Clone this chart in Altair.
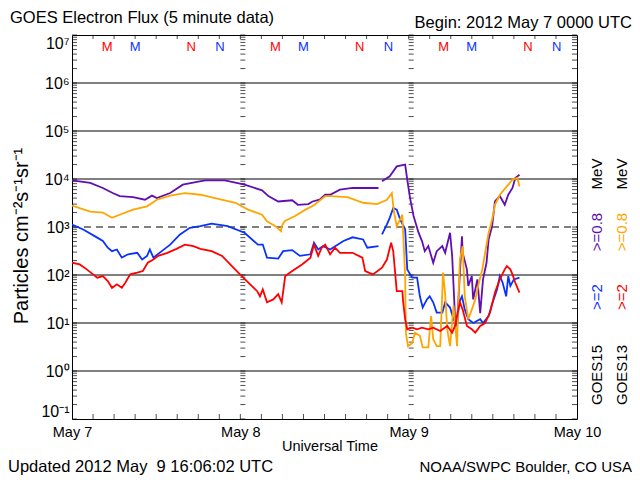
import json
import altair as alt
import pandas as pd

# ---------------- data (hours since 2012-05-07 00:00 UTC, flux) ----------------
# None marks a data gap
PURPLE_H = [0, 2.6, 4.4, 5.8, 6.8, 8.7, 10.4, 11.4, 12.1, 14.0, 15.8, 18.0, 19.0, 21.8, 24.6, 27.1, 28.0, 29.4,
            31.4, 32.2, 33.7, 34.3, 35.3, 36.1, 36.8, 38.2, 40.0, 41.5, 43.7, None,
            44.2, 45.3, 46.3, 47.5, 47.8, 48.2, 48.7, 49.4, 49.9, 50.3, 50.8, 51.5, 52.0, 52.8, 53.2, 53.9, 54.2,
            54.4, 54.6, 54.9, 55.2, 55.6, 55.7, 56.3, 56.5, 57.0, 57.2, 57.8, 58.2, 58.6, 59.1, 59.4, 59.9, 60.3,
            61.0, 61.7, 62.2, 62.8, 63.2, 63.8]
PURPLE_V = [9400, 8300, 6500, 5100, 4400, 4200, 3700, 4500, 4000, 5100, 7600, 8800, 9400, 9400, 7600, 5800, 4400, 3400,
            3600, 2900, 3000, 3400, 3700, 4700, 4700, 6000, 6500, 6500, 6500, None,
            8950, 11400, 18300, 19900, 9700, 4000, 1700, 770, 510, 314, 400, 180, 314, 400, 290, 760, 250,
            59, 14, 10, 59, 640, 290, 131, 59, 95, 31, 81, 16, 81, 180, 550, 1040, 3400,
            4400, 2900, 4700, 6500, 10500, 12300]

ORANGE_H = [0, 2.6, 4.4, 5.7, 6.8, 8.7, 10.7, 12.1, 14.0, 16.1, 18.3, 20.4, 23.3, 25.1, 27.1, 27.8, 29.0, 29.8, 29.9,
            30.3, 31.8, 33.3, 34.6, 36.1, 36.8, 39.3, 41.5, 43.5, 44.9, 45.6, 45.9, 46.3, 47.1, 47.2, 47.5, 47.6,
            47.9, 48.5, 48.9, 49.6, 50.0, 50.8, 51.2, 51.5, 52.0, 52.5, 52.9, 53.2, 53.5, 53.9, 54.4, 54.9, 55.0,
            55.3, 55.7, 56.0, 56.5, 57.0, 57.5, 57.9, 58.5, 58.9, 59.4, 59.9, 60.3, 61.0, 62.0, 62.8, 63.5, 63.8]
ORANGE_V = [2800, 2100, 2000, 1550, 1800, 2300, 2700, 3700, 4500, 5100, 4700, 4000, 3200, 2300, 1800, 1320, 1040, 820,
            1040, 1320, 1700, 2300, 2900, 4400, 4400, 4200, 3200, 3000, 3700, 5100, 2100, 1040, 1800, 820, 95, 6.3,
            3.3, 3.8, 6.3, 5.4, 3.1, 3.1, 14, 4.6, 3.3, 3.3, 112, 40, 7.4, 3.3, 23, 3.3, 12,
            210, 400, 36, 12, 19, 31, 59, 131, 290, 760, 1430, 2900, 4700, 7000, 9700, 10500, 7000]

BLUE_H = [0, 1.6, 3.6, 4.4, 5.1, 5.7, 6.4, 7.1, 8.0, 9.3, 10.0, 10.7, 11.1, 11.6, 12.8, 14.0, 15.4, 16.8, 18.3, 19.9,
          22.2, 24.6, 26.5, 27.2, 27.8, 29.4, 30.1, 31.4, 32.5, 34.0, 34.5, 35.1, 35.8, 36.8, 38.7, 40.0, 41.5, 42.1,
          43.7, None,
          44.2, 44.9, 45.3, 45.8, 46.3, 46.8, 47.5, 47.8, 48.5, 49.2, 49.6, 50.0, 50.6, 51.0, 51.5, 52.0, 52.8, 53.2,
          53.9, 54.4, 54.9, 55.2, 55.6, 56.0, 56.5, 57.2, 58.2, 58.6, 59.4, 59.9, 60.6, 61.0, 61.4, 61.9, 62.2, 62.5,
          63.0, 63.8]
BLUE_V = [1130, 890, 600, 510, 370, 314, 340, 230, 270, 290, 210, 250, 340, 230, 314, 430, 700, 960, 1040, 1170,
          1040, 760, 430, 430, 230, 220, 314, 330, 250, 270, 470, 340, 400, 340, 510, 610, 550, 370,
          400, None,
          700, 1130, 1550, 2500, 2300, 1430, 900, 131, 88, 88, 36, 21, 31, 36, 27, 16.5, 16.5, 27,
          21, 12, 8.7, 27, 36, 19, 12, 10, 12, 10, 14, 25, 50, 95, 69, 36, 95, 59,
          81, 88]

RED_H = [0, 1.1, 2.1, 3.0, 3.6, 4.4, 5.1, 5.7, 6.4, 7.1, 7.6, 8.3, 9.3, 10.1, 10.8, 11.6, 12.3, 13.6, 14.9, 16.1,
         17.3, 18.3, 19.9, 21.4, 22.8, 24.2, 25.4, 26.4, 26.8, 27.2, 27.8, 28.7, 29.4, 29.9, 30.4, 31.4, 32.8, 34.0,
         34.5, 35.1, 35.6, 36.1, 36.8, 37.5, 38.2, 40.0, 41.4, 41.8, 42.9, 44.2, 44.9, 45.5, 45.8, 46.3, 47.1, 47.2,
         47.5, 47.8, 48.5, 49.2, 49.9, 50.8, 51.5, 52.5, 53.5, 54.2, 54.6, 55.3, 55.7, 56.3, 57.0, 57.5, 58.2, 58.9,
         59.6, 60.3, 61.0, 61.7, 62.0, 62.5, 62.8, 63.2, 63.8]
RED_V = [180, 166, 131, 103, 88, 95, 75, 54, 64, 54, 69, 103, 112, 121, 180, 210, 250, 290, 350, 430,
         400, 350, 314, 250, 153, 95, 64, 46, 36, 50, 27, 31, 40, 27, 95, 121, 166, 230,
         430, 250, 370, 430, 270, 370, 290, 290, 230, 121, 103, 142, 210, 470, 314, 46, 46, 29,
         12, 7.4, 8.0, 7.4, 8.0, 7.4, 8.0, 6.8, 8.7, 6.3, 8.7, 27, 19, 8.7, 7.4, 6.3, 8.7, 10,
         16.5, 43, 81, 131, 153, 131, 103, 69, 43]

SERIES = [  # (hours, values, colour) in drawing order
    (PURPLE_H, PURPLE_V, "#6010b0"),
    (BLUE_H, BLUE_V, "#0a32ff"),
    (ORANGE_H, ORANGE_V, "#ffa500"),
    (RED_H, RED_V, "#ff0000"),
]

# local midnight (M) / noon (N) markers: letter, hour, colour
MARK_LETTERS = ["M", "M", "N", "N"] * 3
MARK_HOURS = [5.0, 9.0, 17.0, 21.1, 29.0, 33.0, 41.0, 45.1, 53.0, 57.0, 65.0, 69.1]
MARK_COLORS = ["#ff0000", "#0a32ff", "#ff0000", "#0a32ff"] * 3

X_TICK_HOURS = [0, 24, 48, 72]
X_TICK_LABELS = ["May 7", "May 8", "May 9", "May 10"]
Y_TICK_VALUES = [0.1, 1, 10, 100, 1e3, 1e4, 1e5, 1e6, 1e7]
Y_TICK_LABELS = ["10⁻¹", "10⁰", "10¹", "10²", "10³", "10⁴", "10⁵", "10⁶", "10⁷"]
GRID_SOLID = [1, 10, 100, 1e4, 1e5, 1e6]
GRID_DASHED = [1e3]

# axis decorations
MINOR_Y = [m * 10.0 ** e for e in range(-1, 7) for m in range(1, 10)] + [1e7]
HOUR_TICKS = list(range(3, 72, 3))

W, H = 505, 384
FONT = "Liberation Sans"

xs = alt.Scale(domain=[0, 72], nice=False, zero=False)
ys = alt.Scale(type="log", domain=[0.1, 1e7], nice=False)

y_label_expr = json.dumps(Y_TICK_LABELS, ensure_ascii=False) + "[round(log(datum.value)/LN10)+1]"
x_label_expr = json.dumps(X_TICK_LABELS) + "[round(datum.value/24)]"

YAX = alt.Axis(values=Y_TICK_VALUES, labelExpr=y_label_expr, ticks=False, domain=False, grid=False,
               labelFlush=True, labelPadding=3, labelFontSize=16, labelFont=FONT, labelColor="black", title=None)
XAX = alt.Axis(values=X_TICK_HOURS, labelExpr=x_label_expr, ticks=False, domain=False, grid=False,
               labelPadding=6, labelFontSize=14.5, labelFont=FONT, labelColor="black", labelFlush=False,
               title=None)


def X(field="h"):
    return alt.X(f"{field}:Q", scale=xs, axis=XAX)


def Y(field="v"):
    return alt.Y(f"{field}:Q", scale=ys, axis=YAX)


def series_df(hours, vals):
    rows, seg = [], 0
    for h, v in zip(hours, vals):
        if h is None:
            seg += 1
            continue
        rows.append({"h": h, "v": v, "seg": seg})
    return pd.DataFrame(rows)


# gridlines
grid = alt.Chart(pd.DataFrame({"v": GRID_SOLID})).mark_rule(color="black", strokeWidth=1).encode(
    y=Y(), x=alt.value(0), x2=alt.value(W))
grid_dash = alt.Chart(pd.DataFrame({"v": GRID_DASHED})).mark_rule(color="black", strokeWidth=1,
                                                                   strokeDash=[7, 5]).encode(
    y=Y(), x=alt.value(0), x2=alt.value(W))
xaxis = alt.Chart(pd.DataFrame({"h": X_TICK_HOURS})).mark_point(opacity=0).encode(x=X(), y=alt.value(0))

# y ticks on left edge, day boundaries (pointing right) and right edge (pointing left)
ytick_rows = [{"h": h, "v": v} for h in [0, 24, 48] for v in MINOR_Y]
yticks = alt.Chart(pd.DataFrame(ytick_rows)).mark_tick(orient="horizontal", size=5, thickness=1,
                                                       color="black", xOffset=2.5).encode(x=X(), y=Y())
yticks_r = alt.Chart(pd.DataFrame({"h": [72] * len(MINOR_Y), "v": MINOR_Y})).mark_tick(
    orient="horizontal", size=5, thickness=1, color="black", xOffset=-2.5).encode(x=X(), y=Y())
# hour ticks top (pointing down) and bottom (pointing up)
ht = pd.DataFrame({"h": HOUR_TICKS})
ticks_top = alt.Chart(ht).mark_tick(orient="vertical", size=4, thickness=1, color="black", yOffset=2).encode(
    x=X(), y=alt.value(0))
ticks_bot = alt.Chart(ht).mark_tick(orient="vertical", size=5, thickness=1, color="black", yOffset=-2.5).encode(
    x=X(), y=alt.value(H))

lines = []
for hours, vals, col in SERIES:
    lines.append(alt.Chart(series_df(hours, vals)).mark_line(color=col, strokeWidth=1.8, clip=True).encode(
        x=X(), y=Y(), detail="seg:N"))

marks = alt.Chart(pd.DataFrame({"h": MARK_HOURS, "t": MARK_LETTERS, "c": MARK_COLORS})).mark_text(
    fontSize=13, font=FONT, baseline="middle").encode(
    x=X(), y=alt.value(12), text="t:N", color=alt.Color("c:N", scale=None))


def label(text, x, y, size=15, align="left", color="black", angle=0):
    return alt.Chart(pd.DataFrame({"t": [text]})).mark_text(
        align=align, baseline="middle", fontSize=size, font=FONT, color=color, angle=angle).encode(
        text="t:N", x=alt.value(x), y=alt.value(y))


texts = [
    label("GOES Electron Flux (5 minute data)", -62, -17, 16.5),
    label("Begin: 2012 May 7 0000 UTC", 560, -12, 16.5, "right"),
    label("Updated 2012 May \u00a09 16:06:02 UTC", -64, 432, 16.5),
    label("NOAA/SWPC Boulder, CO USA", 560, 432, 15, "right"),
    label("Universal Time", 258, 412, 14.5, "center"),
    label("Particles cm⁻²s⁻¹sr⁻¹", -50, 201, 20, "center", angle=270),
    label("MeV", 525, 139, 15, "center", angle=270),
    label(">=0.8", 525, 197, 15, "center", "#6010b0", 270),
    label(">=2", 525, 262, 15, "center", "#0a32ff", 270),
    label("GOES15", 525, 340, 15, "center", angle=270),
    label("MeV", 550, 139, 15, "center", angle=270),
    label(">=0.8", 550, 197, 15, "center", "#ffa500", 270),
    label(">=2", 550, 262, 15, "center", "#ff0000", 270),
    label("GOES13", 550, 340, 15, "center", angle=270),
]

chart = alt.layer(grid, grid_dash, xaxis, yticks, yticks_r, ticks_top, ticks_bot, *lines, marks, *texts).properties(
    width=W, height=H,
    padding={"left": 64, "top": 27, "right": 55, "bottom": 57},
    autosize=alt.AutoSizeParams(type="none"),
    background="white",
).configure_view(stroke="black", strokeWidth=1)

chart.save("out.html", embed_options={"renderer": "svg", "actions": False})
